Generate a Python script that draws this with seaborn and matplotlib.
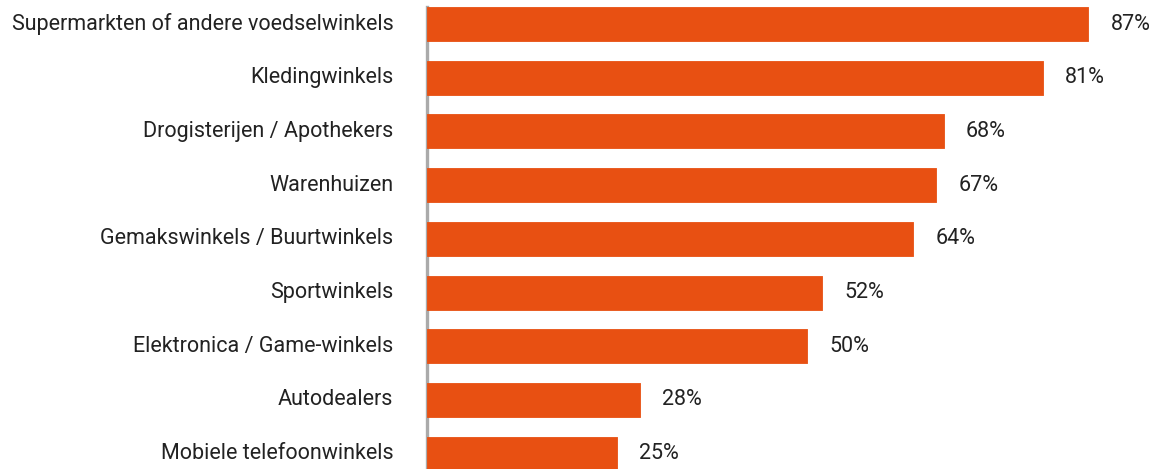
import matplotlib
matplotlib.use("Agg")
import matplotlib.pyplot as plt
import matplotlib.transforms as mtransforms
import seaborn as sns
import pandas as pd

categories = [
    "Supermarkten of andere voedselwinkels",
    "Kledingwinkels",
    "Drogisterijen / Apothekers",
    "Warenhuizen",
    "Gemakswinkels / Buurtwinkels",
    "Sportwinkels",
    "Elektronica / Game-winkels",
    "Autodealers",
    "Mobiele telefoonwinkels",
]
values = [87, 81, 68, 67, 64, 52, 50, 28, 25]

df = pd.DataFrame({"cat": categories, "val": values})

sns.set_theme(style="white")
plt.rcParams["font.family"] = ["Roboto", "DejaVu Sans"]

fig = plt.figure(figsize=(11.62, 4.69), dpi=100)
ax = fig.add_axes([426.7 / 1162, 0, 1 - 426.7 / 1162, 1])

bar_color = "#E85012"
sns.barplot(data=df, x="val", y="cat", orient="h", color=bar_color,
            width=34 / 53.7, saturation=1, ax=ax, zorder=2)
for p in ax.patches:
    p.set_edgecolor(bar_color)
    p.set_linewidth(0.6)
    p.set_joinstyle("round")

ax.set_xlim(0, (1162 - 426.7) / 7.605)
ax.set_ylim((469 - 24) / 53.7, -24 / 53.7)

up = mtransforms.ScaledTranslation(0, 2.5 / 100, fig.dpi_scale_trans)

for c in ax.containers:
    texts = ax.bar_label(c, labels=[f"{v}%" for v in values], padding=16,
                         fontsize=15.5, color="#222222")
    for t in texts:
        t.set_transform(t.get_transform() + up)

ax.set_xlabel("")
ax.set_ylabel("")
ax.set_xticks([])
ax.tick_params(axis="y", length=0, pad=24, labelsize=15.5, labelcolor="#222222")
for lab in ax.get_yticklabels():
    lab.set_transform(lab.get_transform() + up)

for s in ["top", "right", "bottom"]:
    ax.spines[s].set_visible(False)
ax.spines["left"].set_color("#aaaaaa")
ax.spines["left"].set_linewidth(2.4)
ax.spines["left"].set_zorder(1)
ax.spines["left"].set_bounds(-0.32, (469 - 24) / 53.7)

fig.savefig("out.png", dpi=100)
